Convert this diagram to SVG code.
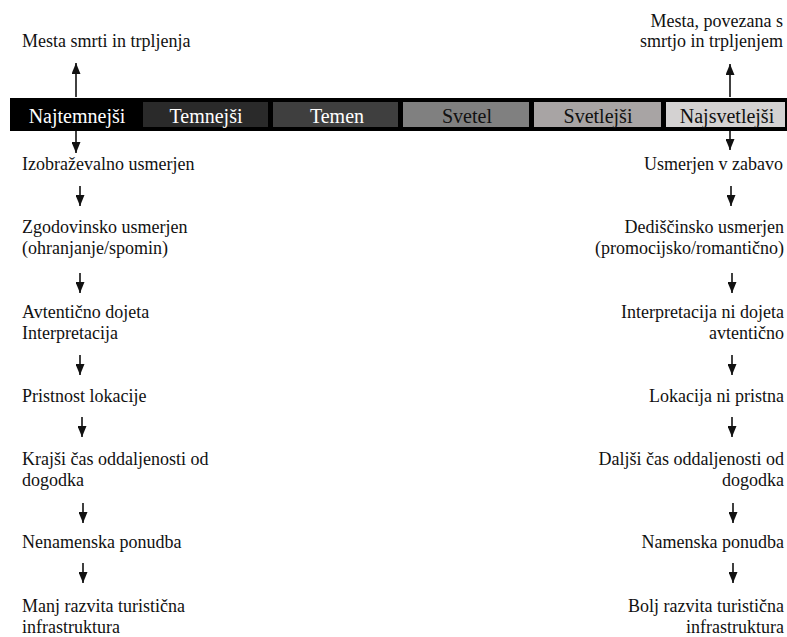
<svg xmlns="http://www.w3.org/2000/svg" width="787" height="637" viewBox="0 0 787 637">
<style>
text{font-family:"Liberation Serif","Times New Roman",serif;font-size:18px;fill:#111}
.bl{font-size:20px;text-anchor:middle}
.w{fill:#fff}
.r{text-anchor:end}
.ar{stroke:#111;stroke-width:1.6;fill:none;marker-end:url(#ah)}
</style>
<defs>
<marker id="ah" viewBox="0 0 11 9" refX="11" refY="4.5" markerWidth="11" markerHeight="9" markerUnits="userSpaceOnUse" orient="auto"><path d="M0,0 L11,4.5 L0,9 z" fill="#111"/></marker>
</defs>
<rect width="787" height="637" fill="#fff"/>
<g id="bar">
<rect x="10" y="98" width="777" height="33" fill="#000"/>
<rect x="143" y="102" width="125" height="25" fill="#2a2a2a"/>
<rect x="273" y="102" width="125" height="25" fill="#3f3f3f"/>
<rect x="403" y="102" width="126" height="25" fill="#808080"/>
<rect x="534" y="102" width="127" height="25" fill="#a8a4a4"/>
<rect x="666" y="102" width="119" height="25" fill="#d4d2d2"/>
<text class="bl w" x="77" y="123">Najtemnejši</text>
<text class="bl w" x="206" y="123">Temnejši</text>
<text class="bl w" x="337" y="123">Temen</text>
<text class="bl" x="467" y="123">Svetel</text>
<text class="bl" x="598" y="123">Svetlejši</text>
<text class="bl" x="727" y="123">Najsvetlejši</text>
</g>
<g id="left-top"><text x="22" y="47">Mesta smrti in trpljenja</text></g>
<g id="left-1"><text x="22" y="170">Izobraževalno usmerjen</text></g>
<g id="left-2"><text x="22" y="233">Zgodovinsko usmerjen</text><text x="22" y="254">(ohranjanje/spomin)</text></g>
<g id="left-3"><text x="22" y="318">Avtentično dojeta</text><text x="22" y="339">Interpretacija</text></g>
<g id="left-4"><text x="22" y="402">Pristnost lokacije</text></g>
<g id="left-5"><text x="22" y="465">Krajši čas oddaljenosti od</text><text x="22" y="486">dogodka</text></g>
<g id="left-6"><text x="22" y="548">Nenamenska ponudba</text></g>
<g id="left-7"><text x="22" y="612">Manj razvita turistična</text><text x="22" y="633">infrastruktura</text></g>
<g id="right-top"><text class="r" x="783" y="27">Mesta, povezana s</text><text class="r" x="783" y="47">smrtjo in trpljenjem</text></g>
<g id="right-1"><text class="r" x="783" y="170">Usmerjen v zabavo</text></g>
<g id="right-2"><text class="r" x="784" y="233">Dediščinsko usmerjen</text><text class="r" x="784" y="254">(promocijsko/romantično)</text></g>
<g id="right-3"><text class="r" x="784" y="318">Interpretacija ni dojeta</text><text class="r" x="784" y="339">avtentično</text></g>
<g id="right-4"><text class="r" x="784" y="402">Lokacija ni pristna</text></g>
<g id="right-5"><text class="r" x="784" y="465">Daljši čas oddaljenosti od</text><text class="r" x="784" y="486">dogodka</text></g>
<g id="right-6"><text class="r" x="784" y="548">Namenska ponudba</text></g>
<g id="right-7"><text class="r" x="784" y="612">Bolj razvita turistična</text><text class="r" x="784" y="633">infrastruktura</text></g>
<g id="connectors">
<line class="ar" x1="76" y1="97" x2="76" y2="63"/>
<line class="ar" x1="76" y1="131" x2="76" y2="153"/>
<line class="ar" x1="80" y1="186" x2="80" y2="206"/>
<line class="ar" x1="80" y1="273" x2="80" y2="293"/>
<line class="ar" x1="80" y1="355" x2="80" y2="375"/>
<line class="ar" x1="82" y1="417" x2="82" y2="437"/>
<line class="ar" x1="83" y1="503" x2="83" y2="523"/>
<line class="ar" x1="83" y1="563" x2="83" y2="583"/>
<line class="ar" x1="730" y1="97" x2="730" y2="64"/>
<line class="ar" x1="730" y1="131" x2="730" y2="150"/>
<line class="ar" x1="731" y1="186" x2="731" y2="206"/>
<line class="ar" x1="732" y1="273" x2="732" y2="293"/>
<line class="ar" x1="732" y1="355" x2="732" y2="375"/>
<line class="ar" x1="732" y1="417" x2="732" y2="437"/>
<line class="ar" x1="733" y1="503" x2="733" y2="523"/>
<line class="ar" x1="733" y1="563" x2="733" y2="583"/>
</g>
</svg>
